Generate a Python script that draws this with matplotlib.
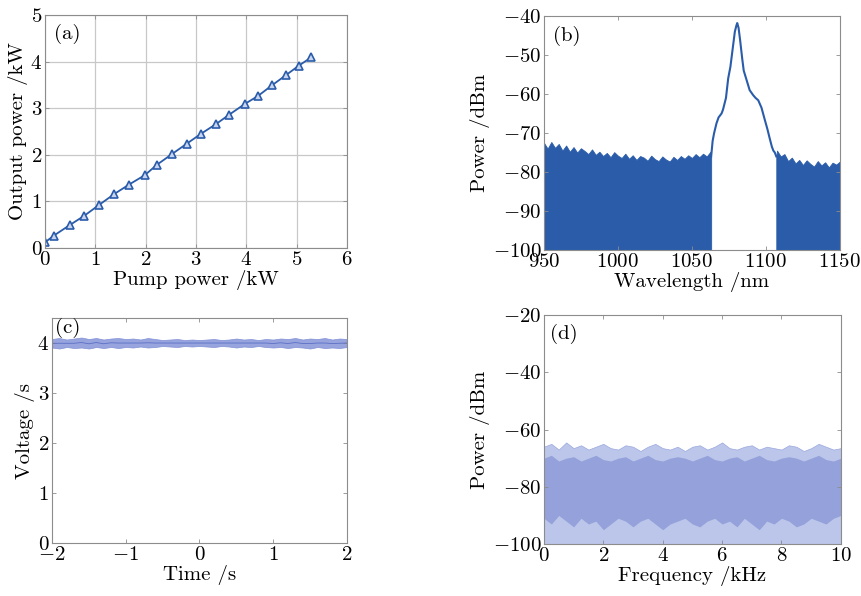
import numpy as np
import matplotlib
matplotlib.use('Agg')
from matplotlib import pyplot as plt

plt.rcParams['font.family'] = ['cmr10', 'DejaVu Serif']
plt.rcParams['axes.formatter.use_mathtext'] = True
plt.rcParams['mathtext.fontset'] = 'cm'
plt.rcParams['font.size'] = 14

# (a) output power vs pump power
pump_kw = [0, 0.17, 0.49, 0.78, 1.07, 1.38, 1.67, 1.98, 2.23, 2.53,
           2.82, 3.10, 3.40, 3.66, 3.97, 4.23, 4.51, 4.79, 5.04, 5.29]
out_kw = [0.12, 0.26, 0.49, 0.69, 0.92, 1.16, 1.36, 1.56, 1.79, 2.02,
          2.24, 2.45, 2.66, 2.86, 3.09, 3.26, 3.49, 3.71, 3.91, 4.09]

# (b) spectrum: noise floor envelope left / right of the signal, and the signal peak
floor_left_nm = [950 + 2.5 * i for i in range(46)]
floor_left_db = [-72.5, -74.0, -72.3, -73.8, -72.8, -74.5, -73.2, -74.8, -73.6, -75.0,
                 -73.9, -74.6, -75.4, -74.2, -75.6, -74.8, -75.9, -75.1, -76.2, -74.9,
                 -75.8, -76.4, -75.3, -76.6, -75.7, -76.9, -75.9, -76.3, -77.1, -75.8,
                 -76.7, -77.2, -76.0, -76.8, -77.3, -76.1, -76.9, -75.9, -76.6, -75.7,
                 -76.4, -75.4, -76.2, -75.3, -76.0, -74.8]
peak_nm = [1063, 1064, 1065, 1066.6, 1068, 1070, 1071, 1073, 1074.5, 1076, 1077, 1078,
           1079, 1080, 1080.6, 1081.5, 1082.5, 1084, 1085, 1087, 1089, 1091.4, 1093,
           1094.8, 1097, 1099.3, 1101, 1102.3, 1104, 1105, 1106, 1107]
peak_db = [-76, -72, -70, -67.5, -66, -65, -64, -61, -56, -53, -50, -47,
           -44, -42.5, -41.8, -43, -46, -51, -54, -56.5, -59, -60.3, -61,
           -61.6, -63.5, -66.7, -69, -71, -73.5, -74.5, -75, -76]
floor_right_nm = [1107.5 + 2.5 * i for i in range(18)]
floor_right_db = [-74.5, -76.0, -75.4, -77.2, -76.3, -77.8, -76.9, -78.2, -77.0,
                  -77.9, -78.6, -77.2, -78.3, -77.5, -78.8, -77.6, -78.1, -77.3]

# (c) voltage trace envelope
time_s = [-2 + 0.1 * i for i in range(41)]
volt_hi = [4.08, 4.10, 4.07, 4.09, 4.11, 4.08, 4.10, 4.07, 4.09, 4.10, 4.08,
           4.09, 4.07, 4.10, 4.08, 4.06, 4.07, 4.08, 4.06, 4.07, 4.06,
           4.07, 4.08, 4.06, 4.07, 4.09, 4.07, 4.08, 4.06, 4.08, 4.07,
           4.09, 4.08, 4.10, 4.07, 4.09, 4.08, 4.10, 4.07, 4.09, 4.08]
volt_lo = [3.91, 3.89, 3.92, 3.90, 3.91, 3.89, 3.92, 3.90, 3.92, 3.90, 3.92,
           3.91, 3.93, 3.91, 3.92, 3.94, 3.93, 3.92, 3.94, 3.93, 3.94,
           3.93, 3.92, 3.94, 3.93, 3.91, 3.93, 3.92, 3.94, 3.92, 3.91,
           3.92, 3.90, 3.92, 3.91, 3.89, 3.92, 3.90, 3.91, 3.90, 3.92]

# (d) noise spectrum envelope
freq_khz = [0.25 * i for i in range(41)]
noise_hi = [-66, -65, -67, -64.5, -66.5, -65.5, -67, -66, -65, -66.5, -67,
            -65.5, -66, -67.5, -66, -65, -66.5, -67, -66, -67.5, -66,
            -65.5, -67, -66, -64.5, -66.5, -67, -66, -65.5, -67, -66,
            -66.5, -67, -65.5, -66, -67.5, -66.5, -65, -66, -67, -66.5]
noise_core_hi = [-70, -69, -71, -70, -69.5, -71, -70, -69, -70.5, -71, -70,
                 -69.5, -71, -70, -69, -70.5, -71, -70, -69.5, -70, -71,
                 -70, -69, -70.5, -71, -70, -69.5, -71, -70, -69, -70.5,
                 -71, -70, -69.5, -70, -71, -70, -69, -70.5, -71, -70]
noise_core_lo = [-91, -93, -90, -92, -94, -91, -93, -92, -95, -93, -91,
                 -92, -94, -92, -91, -93, -95, -93, -92, -91, -93,
                 -94, -92, -91, -93, -92, -94, -91, -93, -95, -92,
                 -93, -91, -92, -94, -93, -91, -92, -93, -91, -90]

blue = '#2a5caa'
spine_col = '#8c8c8c'


def style(ax):
    for s in ax.spines.values():
        s.set_color(spine_col)
        s.set_linewidth(0.8)
    ax.tick_params(direction='in', length=3, width=0.6, color=spine_col,
                   top=True, right=True, labelsize=15, pad=2)


fig = plt.figure(figsize=(8.62, 5.96), dpi=100)
ax_a = fig.add_axes([0.0522, 0.584, 0.3504, 0.391])
ax_b = fig.add_axes([0.631, 0.5805, 0.3434, 0.3926])
ax_c = fig.add_axes([0.0603, 0.0889, 0.3422, 0.3775])
ax_d = fig.add_axes([0.631, 0.0872, 0.3445, 0.3842])

# (a)
ax_a.plot(pump_kw, out_kw, '-', color=blue, lw=1.3, marker='^', ms=6,
          mfc='#c9d5ee', mec=blue, mew=1.2)
ax_a.set_xlim(0, 6)
ax_a.set_ylim(0, 5)
ax_a.set_xticks(range(7))
ax_a.set_yticks(range(6))
ax_a.grid(True, color='#c8c8c8', lw=0.9)
ax_a.set_axisbelow(True)
ax_a.set_xlabel('Pump power /kW', fontsize=15, labelpad=1)
ax_a.set_ylabel('Output power /kW', fontsize=15, labelpad=2)
ax_a.text(0.03, 0.96, '(a)', transform=ax_a.transAxes, ha='left', va='top', fontsize=15)
style(ax_a)

# (b)
ax_b.fill_between(floor_left_nm + [1063], -100, floor_left_db + [-76], color=blue, lw=0.6, ec=blue)
ax_b.fill_between([1107] + floor_right_nm, -100, [-76] + floor_right_db, color=blue, lw=0.6, ec=blue)
ax_b.plot(peak_nm, peak_db, color=blue, lw=1.5)
ax_b.set_xlim(950, 1150)
ax_b.set_ylim(-100, -40)
ax_b.set_xticks([950, 1000, 1050, 1100, 1150])
ax_b.set_yticks(range(-100, -39, 10))
ax_b.set_xlabel('Wavelength /nm', fontsize=15, labelpad=1)
ax_b.set_ylabel('Power /dBm', fontsize=15, labelpad=2)
ax_b.text(0.03, 0.96, '(b)', transform=ax_b.transAxes, ha='left', va='top', fontsize=15)
style(ax_b)

# (c)
ax_c.fill_between(time_s, volt_lo, volt_hi, color='#97a4de', lw=0.5, ec='#8090d6')
ax_c.plot(time_s, [(h + l) / 2 for h, l in zip(volt_hi, volt_lo)], color='#5b6fc4', lw=0.6)
ax_c.set_xlim(-2, 2)
ax_c.set_ylim(0, 4.5)
ax_c.set_xticks([-2, -1, 0, 1, 2])
ax_c.set_yticks([0, 1, 2, 3, 4])
ax_c.set_xlabel('Time /s', fontsize=15, labelpad=1)
ax_c.set_ylabel('Voltage /s', fontsize=15, labelpad=2)
ax_c.text(0.01, 1.0, '(c)', transform=ax_c.transAxes, ha='left', va='top', fontsize=15)
style(ax_c)

# (d)
ax_d.fill_between(freq_khz, -100, noise_hi, color='#bcc6ea', lw=0.5, ec='#9aa8de')
ax_d.fill_between(freq_khz, noise_core_lo, noise_core_hi, color='#94a1da', lw=0)
ax_d.set_xlim(0, 10)
ax_d.set_ylim(-100, -20)
ax_d.set_xticks([0, 2, 4, 6, 8, 10])
ax_d.set_yticks([-100, -80, -60, -40, -20])
ax_d.set_xlabel('Frequency /kHz', fontsize=15, labelpad=1)
ax_d.set_ylabel('Power /dBm', fontsize=15, labelpad=2)
ax_d.text(0.02, 0.96, '(d)', transform=ax_d.transAxes, ha='left', va='top', fontsize=15)
style(ax_d)

fig.savefig('out.png', dpi=100)
